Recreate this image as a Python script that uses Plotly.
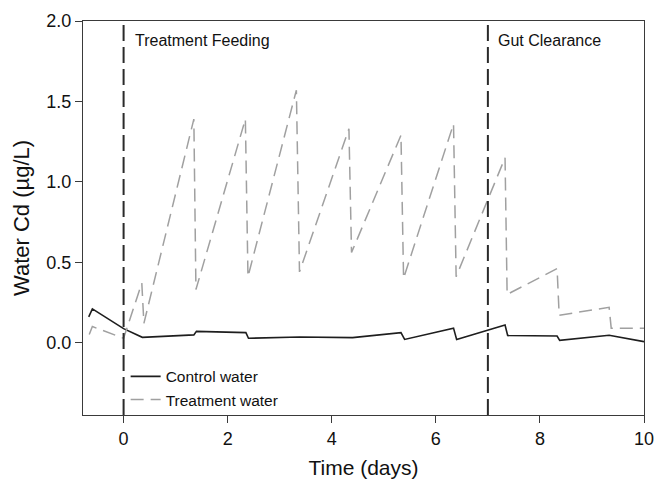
import plotly.graph_objects as go

# Treatment water (dashed grey)
treat_t = [-0.66, -0.60, 0.0, 0.35, 0.39, 1.35, 1.39, 2.34, 2.39, 3.32, 3.38,
           4.33, 4.38, 5.33, 5.38, 6.34, 6.39, 7.33, 7.37, 8.33, 8.37, 9.33, 9.37, 10.0]
treat_v = [0.05, 0.10, 0.027, 0.37, 0.12, 1.39, 0.33, 1.39, 0.41, 1.57, 0.44,
           1.33, 0.56, 1.29, 0.40, 1.36, 0.41, 1.15, 0.30, 0.46, 0.17, 0.22, 0.09, 0.09]

# Control water (solid black)
ctrl_t = [-0.67, -0.60, 0.0, 0.36, 1.35, 1.40, 2.35, 2.40, 3.38, 4.40, 5.33, 5.40,
          6.34, 6.40, 7.33, 7.38, 8.33, 8.38, 9.33, 10.0]
ctrl_v = [0.16, 0.21, 0.087, 0.033, 0.048, 0.07, 0.062, 0.027, 0.035, 0.031, 0.062, 0.02,
          0.09, 0.02, 0.11, 0.044, 0.041, 0.014, 0.046, 0.006]

phase_x = [0, 7]
phase_labels = ["Treatment Feeding", "Gut Clearance"]
phase_label_x = [0.18, 7.15]

x_ticks = [0, 2, 4, 6, 8, 10]
y_ticks = [0.0, 0.5, 1.0, 1.5, 2.0]

FONT = "Liberation Sans, Arial, sans-serif"

fig = go.Figure()
fig.add_trace(go.Scatter(x=ctrl_t, y=ctrl_v, mode="lines", name="Control water",
                         line=dict(color="#1e1e1e", width=1.6)))
fig.add_trace(go.Scatter(x=treat_t, y=treat_v, mode="lines", name="Treatment water",
                         line=dict(color="#a0a0a0", width=1.5, dash="13px,7px")))

for xv in phase_x:
    fig.add_shape(type="line", xref="x", yref="paper", x0=xv, x1=xv, y0=0, y1=0.99,
                  line=dict(color="#2a2a2a", width=2, dash="16px,6px"))

for lab, lx in zip(phase_labels, phase_label_x):
    fig.add_annotation(x=lx, y=1.88, xref="x", yref="y", text=lab, showarrow=False,
                       xanchor="left", yanchor="middle",
                       font=dict(family=FONT, size=16, color="#111"))

axis_common = dict(showline=True, linecolor="#3a3a3a", linewidth=1.4, mirror=True,
                   showgrid=False, zeroline=False, ticks="outside", ticklen=7,
                   tickcolor="#3a3a3a", tickwidth=1.3, automargin=False,
                   ticklabeloverflow="allow",
                   tickfont=dict(family=FONT, size=18, color="#111"))

fig.update_xaxes(range=[-0.78, 10], tickvals=x_ticks, ticktext=[str(v) for v in x_ticks],
                 title=dict(text="Time (days)", font=dict(family=FONT, size=21, color="#111"),
                            standoff=12),
                 **axis_common)
fig.update_yaxes(range=[-0.45, 2.0], tickvals=y_ticks, tickformat=".1f",
                 title=dict(text="Water Cd (µg/L)", font=dict(family=FONT, size=22, color="#111"),
                            standoff=10),
                 **axis_common)

fig.update_layout(
    width=654, height=479,
    margin=dict(l=83, r=10, t=21, b=64),
    paper_bgcolor="white", plot_bgcolor="white",
    showlegend=True,
    legend=dict(x=0.076, y=0.14, xanchor="left", yanchor="top",
                bgcolor="rgba(0,0,0,0)", borderwidth=0,
                font=dict(family=FONT, size=15.5, color="#111"),
                tracegroupgap=0),
)

fig.write_html("out.html", config={"displayModeBar": False},
               post_script="document.body.style.margin='0';document.body.style.overflow='hidden';")
